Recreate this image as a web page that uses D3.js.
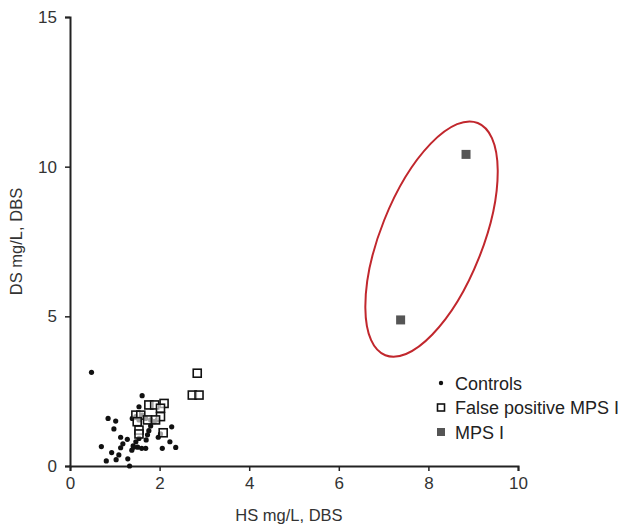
<!DOCTYPE html>
<html>
<head>
<meta charset="utf-8">
<script src="https://cdn.jsdelivr.net/npm/d3@7"></script>
<style>
  body { margin: 0; background: #fff; }
  text { font-family: "Liberation Sans", Arial, sans-serif; }
</style>
</head>
<body>
<div id="chart"></div>
<script>
// data (HS, DS in mg/L)
var controlsHS = [0.48, 1.61, 1.54, 0.85, 1.02, 0.98, 1.13, 1.28, 0.70, 0.93, 1.13, 1.09, 0.81, 1.03, 1.29, 1.33,
                  1.41, 1.38, 1.47, 1.54, 1.60, 1.69, 1.70, 1.73, 1.76, 1.80, 1.97, 2.02, 2.06, 2.27, 2.23, 2.36,
                  1.61, 1.69, 1.80, 1.88, 1.95, 1.54, 1.47, 1.39, 1.18, 1.42, 1.51];
var controlsDS = [3.13, 2.35, 1.98, 1.59, 1.50, 1.24, 0.96, 0.89, 0.65, 0.45, 0.61, 0.37, 0.17, 0.21, 0.24, 0.00,
                  0.67, 0.53, 0.81, 0.92, 0.59, 0.59, 0.87, 1.04, 1.18, 1.34, 0.96, 1.07, 0.59, 1.31, 0.81, 0.62,
                  1.70, 1.59, 1.54, 1.48, 1.54, 1.54, 1.65, 1.59, 0.74, 0.63, 0.63];

var falsePosHS = [2.84, 2.73, 2.88, 1.76, 1.89, 2.10, 2.02, 1.47, 1.58, 2.02, 1.73, 1.91, 1.50, 1.54, 1.54, 2.08];
var falsePosDS = [3.10, 2.37, 2.37, 2.04, 2.04, 2.09, 1.93, 1.70, 1.70, 1.65, 1.54, 1.54, 1.48, 1.20, 1.07, 1.11];

var mpsHS = [8.84, 7.38];
var mpsDS = [10.41, 4.88];

var xTicks = [0, 2, 4, 6, 8, 10];
var yTicks = [0, 5, 10, 15];

var legendLabels = ['Controls', 'False positive MPS I', 'MPS I'];

var margin = { left: 70, right: 107, top: 17, bottom: 62 };
var width = 625 - margin.left - margin.right,
    height = 528 - margin.top - margin.bottom;

var svg = d3.select('#chart')
    .append('svg')
    .attr('width', 625)
    .attr('height', 528)
    .append('g')
    .attr('transform', 'translate(' + margin.left + ',' + margin.top + ')');

var x = d3.scaleLinear().domain([0, 10]).range([0, width]);
var y = d3.scaleLinear().domain([0, 15]).range([height, 0]);

// axes
var xAxis = svg.append('g')
    .attr('transform', 'translate(0,' + height + ')')
    .call(d3.axisBottom(x).tickValues(xTicks).tickSize(5).tickPadding(6).tickFormat(d3.format('d')));
var yAxis = svg.append('g')
    .call(d3.axisLeft(y).tickValues(yTicks).tickSize(5).tickPadding(8).tickFormat(d3.format('d')));

[xAxis, yAxis].forEach(function (a) {
    a.select('.domain').attr('stroke', '#222').attr('stroke-width', 2);
    a.selectAll('.tick line').attr('stroke', '#222').attr('stroke-width', 1.5);
    a.selectAll('.tick text').attr('font-size', '17px').attr('fill', '#333')
        .style('font-family', '"Liberation Sans", Arial, sans-serif');
});

svg.append('text')
    .attr('x', width / 2 - 5)
    .attr('y', height + 55)
    .attr('text-anchor', 'middle')
    .attr('font-size', '16.5px')
    .attr('fill', '#333')
    .text('HS mg/L, DBS');

svg.append('text')
    .attr('transform', 'translate(' + (-48) + ',' + (height / 2) + ') rotate(-90)')
    .attr('text-anchor', 'middle')
    .attr('font-size', '16.5px')
    .attr('fill', '#333')
    .text('DS mg/L, DBS');

// ellipse around MPS I cases
var ell = { cx: 8.07, cy: 7.58, rx: 51, ry: 125, angle: 21.7 };
svg.append('ellipse')
    .attr('transform', 'translate(' + x(ell.cx) + ',' + y(ell.cy) + ') rotate(' + ell.angle + ')')
    .attr('rx', ell.rx)
    .attr('ry', ell.ry)
    .attr('fill', 'none')
    .attr('stroke', '#c1272d')
    .attr('stroke-width', 2);

// controls
svg.selectAll('circle.ctrl')
    .data(controlsHS)
    .enter()
    .append('circle')
    .attr('class', 'ctrl')
    .attr('cx', function (d) { return x(d); })
    .attr('cy', function (d, i) { return y(controlsDS[i]); })
    .attr('r', 2.6)
    .attr('fill', '#111');

// false positive
var s = 8;
svg.selectAll('rect.fp')
    .data(falsePosHS)
    .enter()
    .append('rect')
    .attr('class', 'fp')
    .attr('x', function (d) { return x(d) - s / 2; })
    .attr('y', function (d, i) { return y(falsePosDS[i]) - s / 2; })
    .attr('width', s)
    .attr('height', s)
    .attr('fill', '#fff')
    .attr('fill-opacity', 0.6)
    .attr('stroke', '#111')
    .attr('stroke-width', 1.6);

// MPS I
svg.selectAll('rect.mps')
    .data(mpsHS)
    .enter()
    .append('rect')
    .attr('class', 'mps')
    .attr('x', function (d) { return x(d) - 4.5; })
    .attr('y', function (d, i) { return y(mpsDS[i]) - 4.5; })
    .attr('width', 9)
    .attr('height', 9)
    .attr('fill', '#555');

// legend
var legend = svg.append('g').attr('transform', 'translate(' + (441 - margin.left) + ',' + (383 - margin.top) + ')');
legendLabels.forEach(function (lab, i) {
    var g = legend.append('g').attr('transform', 'translate(0,' + (i * 24.5) + ')');
    if (i === 0) {
        g.append('circle').attr('r', 2.2).attr('fill', '#111');
    } else if (i === 1) {
        g.append('rect').attr('x', -3.5).attr('y', -3.5).attr('width', 7).attr('height', 7)
            .attr('fill', '#fff').attr('stroke', '#111').attr('stroke-width', 1.6);
    } else {
        g.append('rect').attr('x', -4).attr('y', -4).attr('width', 8).attr('height', 8).attr('fill', '#555');
    }
    g.append('text')
        .attr('x', 14)
        .attr('y', 6.5)
        .attr('font-size', '18px')
        .attr('fill', '#222')
        .text(lab);
});
</script>
</body>
</html>
